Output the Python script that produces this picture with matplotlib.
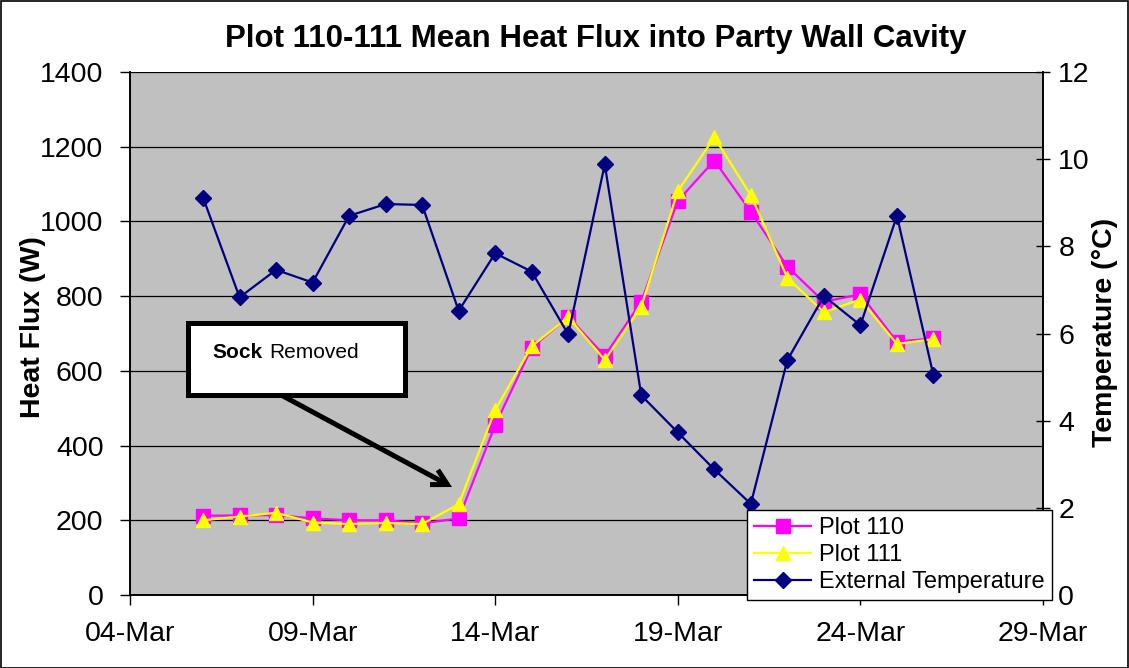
import matplotlib
matplotlib.use("Agg")
import matplotlib.pyplot as plt
import matplotlib.dates as mdates
from matplotlib.patches import Rectangle, FancyArrowPatch
import datetime as dt

plt.rcParams['font.family'] = ['Liberation Sans', 'DejaVu Sans']

dates = [dt.date(2008, 3, d) for d in range(6, 27)]
plot110 = [212, 213, 214, 205, 200, 200, 192, 205, 455, 662, 745, 640, 785, 1055, 1163,
           1026, 879, 785, 805, 678, 687]
plot111 = [200, 210, 220, 194, 190, 193, 190, 243, 495, 666, 744, 629, 772, 1081, 1225,
           1070, 849, 757, 791, 672, 685]
ext_temp = [9.12, 6.83, 7.46, 7.17, 8.70, 8.97, 8.95, 6.52, 7.84, 7.42, 5.98, 9.88, 4.58,
            3.73, 2.88, 2.09, 5.39, 6.86, 6.19, 8.70, 5.04]

W, H = 1129, 668
fig = plt.figure(figsize=(W / 100, H / 100), dpi=100)
ax = fig.add_axes([130 / W, 1 - 595 / H, (1043 - 130) / W, (595 - 72) / H])
ax.set_facecolor('#C0C0C0')
ax2 = ax.twinx()

l1, = ax.plot(dates, plot110, color='#FF00FF', lw=1.6, marker='s', ms=9.5,
              markeredgecolor='#FF00FF', label='Plot 110', zorder=3)
l2, = ax.plot(dates, plot111, color='#FFFF00', lw=1.6, marker='^', ms=10.5,
              markeredgecolor='#FFFF00', label='Plot 111', zorder=4)
l3, = ax2.plot(dates, ext_temp, color='#000080', lw=1.6, marker='D', ms=8,
               markeredgecolor='#000080', label='External Temperature', zorder=3)

ax.set_xlim(dt.date(2008, 3, 4), dt.date(2008, 3, 29))
ax.xaxis.set_major_locator(mdates.DayLocator(bymonthday=[4, 9, 14, 19, 24, 29]))
ax.xaxis.set_major_formatter(mdates.DateFormatter('%d-%b'))
ax.set_ylim(0, 1400)
ax.set_yticks(range(0, 1401, 200))
ax2.set_ylim(0, 12)
ax2.set_yticks(range(0, 13, 2))

ax.yaxis.grid(True, color='black', lw=0.9)
ax.set_axisbelow(True)
ax.spines['top'].set_visible(False)
ax2.spines['top'].set_visible(False)
for a in (ax, ax2):
    for sp in a.spines.values():
        sp.set_linewidth(1.2)

ax.tick_params(axis='both', labelsize=20.5, length=7, width=1.0, direction='out')
ax.tick_params(axis='x', pad=12)
ax.tick_params(axis='y', pad=12)
ax2.tick_params(axis='y', labelsize=20.5, length=10, width=1.0, direction='inout', pad=6)

ax.set_ylabel('Heat Flux (W)', fontsize=20.5, fontweight='bold')
ax2.set_ylabel('Temperature (°C)', fontsize=20.5, fontweight='bold')
ax2.yaxis.set_label_coords(1105 / W, 1 - 332 / H, transform=fig.transFigure)
ax.yaxis.label.set_verticalalignment('center')
ax2.yaxis.label.set_verticalalignment('center')
ax.yaxis.set_label_coords(33 / W, 1 - 327 / H, transform=fig.transFigure)

fig.text(596 / W, 1 - 39 / H, 'Plot 110-111 Mean Heat Flux into Party Wall Cavity',
         ha='center', va='center', fontsize=22.5, fontweight='bold')

leg = ax2.legend(handles=[l1, l2, l3], loc='lower right',
                 bbox_to_anchor=(1052 / W, 1 - 600 / H), bbox_transform=fig.transFigure,
                 borderaxespad=0, fontsize=17, fancybox=False, edgecolor='black',
                 framealpha=1, handlelength=2.4, labelspacing=0.2, borderpad=0.3,
                 handletextpad=0.35)
leg.get_frame().set_linewidth(1.0)
leg.set_zorder(10)

# annotation box
box = Rectangle((188 / W, 1 - 395 / H), (405 - 188) / W, (395 - 323) / H,
                transform=fig.transFigure, facecolor='white', edgecolor='black',
                lw=3.6, zorder=5)
fig.add_artist(box)
fig.text(212 / W, 1 - 353 / H, 'Sock', fontsize=15, fontweight='bold',
         ha='left', va='center', zorder=6)
fig.text(269 / W, 1 - 353 / H, 'Removed', fontsize=15, ha='left', va='center', zorder=6)
arr = FancyArrowPatch((283 / W, 1 - 396 / H), (452 / W, 1 - 487 / H),
                      transform=fig.transFigure, arrowstyle='->,head_length=11,head_width=6',
                      mutation_scale=1, lw=3.6, color='black', zorder=6,
                      shrinkA=0, shrinkB=0, joinstyle='miter', capstyle='butt')
fig.add_artist(arr)

# outer border
fig.add_artist(Rectangle((0.5 / W, 0.5 / H), 1 - 1.5 / W, 1 - 1.5 / H,
                         transform=fig.transFigure, fill=False, edgecolor='black', lw=1.2))

fig.savefig('out.png', dpi=100)
